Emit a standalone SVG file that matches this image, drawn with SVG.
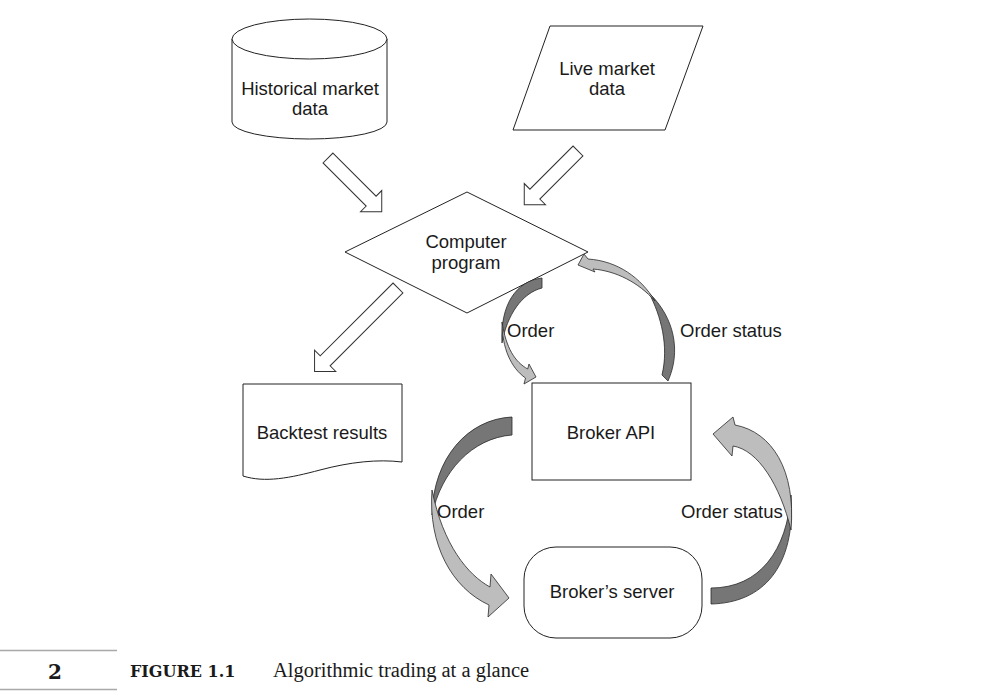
<svg xmlns="http://www.w3.org/2000/svg" width="1006" height="700" viewBox="0 0 1006 700">
<style>
.shape{fill:#fff;stroke:#222;stroke-width:1}
.lbl{font-family:"Liberation Sans",Arial,sans-serif;font-size:18.5px;fill:#1a1a1a}
.mid{text-anchor:middle}
.hollow{fill:#fff;stroke:#333;stroke-width:1;stroke-linejoin:miter}
.dark{fill:#767676;stroke:#2a2a2a;stroke-width:0.8;stroke-linejoin:round}
.light{fill:#bdbdbd;stroke:#2a2a2a;stroke-width:0.8;stroke-linejoin:round}
.rule{stroke:#a8a8a8;stroke-width:1.5}
</style>
<rect width="1006" height="700" fill="#fff"/>

<g id="historical">
<path class="shape" d="M232,39 A77.5,20 0 0 1 387,39 V122 A77.5,17 0 0 1 232,122 Z"/>
<path class="shape" fill="none" d="M232,39 A77.5,20 0 0 0 387,39"/>
<text class="lbl mid" x="310" y="95">Historical market</text>
<text class="lbl mid" x="310" y="115">data</text>
</g>

<g id="live">
<polygon class="shape" points="550,26 703,26 665,130 513,130"/>
<text class="lbl mid" x="607" y="75">Live market</text>
<text class="lbl mid" x="607" y="95">data</text>
</g>

<g id="program">
<polygon class="shape" points="345,252 467,192 588,252 467,313"/>
<text class="lbl mid" x="466" y="248">Computer</text>
<text class="lbl mid" x="466" y="269">program</text>
</g>

<g id="backtest">
<path class="shape" d="M243,384 H402 V462 C378,459 350,462 320,470 C290,478 265,483 243,476 Z"/>
<text class="lbl mid" x="322" y="439">Backtest results</text>
</g>

<g id="broker-api">
<rect class="shape" x="532" y="383" width="159" height="97"/>
<text class="lbl mid" x="611" y="439">Broker API</text>
</g>

<g id="broker-server">
<rect class="shape" x="524" y="547" width="178" height="91" rx="32" ry="32"/>
<text class="lbl mid" x="612" y="598">Broker’s server</text>
</g>

<g id="connectors">
<polygon class="hollow" transform="translate(328,158) rotate(45)" points="0,-7 61,-7 61,-15 76,0 61,15 61,7 0,7"/>
<polygon class="hollow" transform="translate(578,151) rotate(135)" points="0,-7 61,-7 61,-15 76,0 61,15 61,7 0,7"/>
<polygon class="hollow" transform="translate(398,288) rotate(135)" points="0,-7 103,-7 103,-15 118,0 103,15 103,7 0,7"/>

<path class="dark" d="M542,278 C516,281 500,305 502,343 C507,315 522,293 542,288 Z"/>
<path class="light" d="M502,322 C502,348 511,368 525.5,378 L524,384 L536,377 L529,364 L527.7,369 C515,362 506,348 502,322 Z"/>

<path class="dark" d="M668,381 C681,352 675,318 649,293 C661,316 669,346 662,375 Z"/>
<path class="light" d="M655,301 C641,278 618,261 588,259 L584,254 L578,265 L595,272 L593,269 C616,271 638,282 655,301 Z"/>

<path class="dark" d="M512,417 C468,419 433,458 432,515 C441,472 472,438 512,435 Z"/>
<path class="light" d="M432,490 C428,545 452,588 489,605 L488,617 L509,598 L491,574 L490,587 C468,575 443,545 432,490 Z"/>

<path class="dark" d="M711,604 C762,603 796,568 791,495 C787,550 760,588 711,588 Z"/>
<path class="light" d="M791,530 C796,470 772,432 735,425 L733,417 L713,434 L732,456 L733,446 C758,450 780,485 791,530 Z"/>

<text class="lbl" x="507" y="337">Order</text>
<text class="lbl" x="680" y="337">Order status</text>
<text class="lbl" x="437" y="518">Order</text>
<text class="lbl" x="681" y="518">Order status</text>
</g>

<g id="caption">
<line class="rule" x1="0" y1="650.5" x2="117" y2="650.5"/>
<line class="rule" x1="0" y1="689.5" x2="117" y2="689.5"/>
<text x="55" y="679" text-anchor="middle" style="font-family:'DejaVu Serif','Liberation Serif',serif;font-weight:bold;font-size:20px;fill:#1a1a1a">2</text>
<text x="130" y="677" style="font-family:'DejaVu Serif','Liberation Serif',serif;font-weight:bold;font-size:16px;fill:#1a1a1a">FIGURE 1.1</text>
<text x="273" y="677" style="font-family:'Liberation Serif','Times New Roman',serif;font-size:20.5px;fill:#1a1a1a">Algorithmic trading at a glance</text>
</g>
</svg>
